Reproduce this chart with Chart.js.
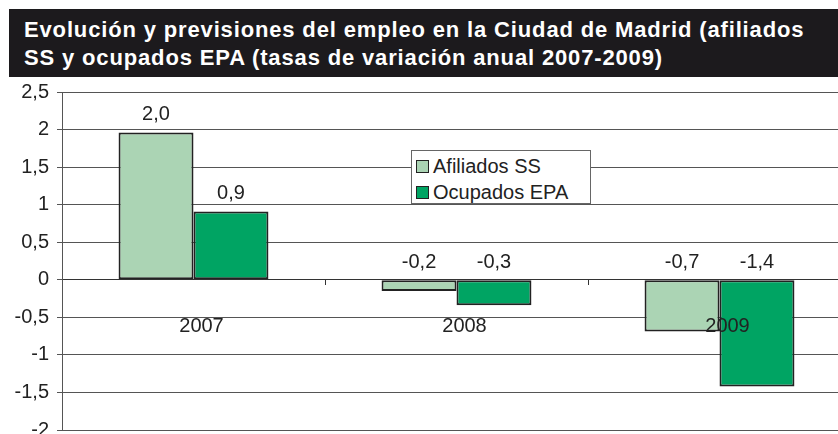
<!DOCTYPE html>
<html>
<head>
<meta charset="utf-8">
<script src="https://cdn.jsdelivr.net/npm/chart.js@4"></script>
<style>
  html, body { margin: 0; padding: 0; background: #fff; overflow: hidden; }
  #wrap { position: relative; width: 838px; height: 434px; overflow: hidden; }
  #title {
    position: absolute; left: 9px; top: 9px; width: 829px; height: 68px;
    box-sizing: border-box; padding: 7px 0 0 15px;
    background: #1c1a1d; color: #fff;
    font: bold 22px "Liberation Sans", Arial, sans-serif; line-height: 28px;
    letter-spacing: 0.85px; white-space: nowrap; z-index: 2;
  }
  #box { position: absolute; left: 0; top: 0; width: 860px; height: 450px; }
  #legend {
    position: absolute; left: 411px; top: 150px; width: 180px; height: 54px;
    box-sizing: border-box; background: #fff; border: 1px solid #666;
    padding: 2px 0 0 4px; font: 20px "Liberation Sans", Arial, sans-serif; color: #222;
    z-index: 2;
  }
  #legend div { height: 26px; line-height: 26px; white-space: nowrap; }
  #legend span.sw {
    display: inline-block; width: 11px; height: 11px; border: 1px solid #222;
    margin-right: 4px; vertical-align: 0px;
  }
</style>
</head>
<body>
<div id="wrap">
  <div id="title">Evolución y previsiones del empleo en la Ciudad de Madrid (afiliados<br>SS y ocupados EPA (tasas de variación anual 2007-2009)</div>
  <div id="box"><canvas id="c" width="860" height="450"></canvas></div>
  <div id="legend"></div>
</div>
<script>
// ---- data ------------------------------------------------------------------
const YEARS        = ['2007', '2008', '2009'];
const AFILIADOS    = [1.96, -0.15, -0.69];
const OCUPADOS     = [0.91, -0.34, -1.42];
const AFIL_LABELS  = ['2,0', '-0,2', '-0,7'];
const OCUP_LABELS  = ['0,9', '-0,3', '-1,4'];
const Y_MIN = -2, Y_MAX = 2.5, Y_STEP = 0.5;

const FONT  = '"Liberation Sans", Arial, sans-serif';
const LIGHT = 'rgb(171, 212, 180)';
const DARK  = 'rgb(0, 164, 99)';

function fmtComma(v) {
  return String(parseFloat(v.toFixed(1))).replace('.', ',');
}

// value labels above the bars (or above the zero line for negatives)
const barLabels = {
  id: 'barLabels',
  afterDatasetsDraw(chart) {
    const ctx = chart.ctx;
    ctx.save();
    ctx.font = '20px ' + FONT;
    ctx.fillStyle = '#222';
    ctx.textAlign = 'center';
    ctx.textBaseline = 'middle';
    chart.data.datasets.forEach((d, i) => {
      chart.getDatasetMeta(i).data.forEach((bar, j) => {
        const top = Math.min(bar.y, bar.base);
        ctx.fillText(d.valueLabels[j], bar.x, top - 18);
      });
    });
    ctx.restore();
  }
};

const chart = new Chart(document.getElementById('c'), {
  type: 'bar',
  data: {
    labels: YEARS,
    datasets: [
      { label: 'Afiliados SS', data: AFILIADOS, valueLabels: AFIL_LABELS,
        backgroundColor: LIGHT, borderColor: '#222', borderWidth: 2, borderSkipped: false },
      { label: 'Ocupados EPA', data: OCUPADOS, valueLabels: OCUP_LABELS,
        backgroundColor: DARK, borderColor: '#222', borderWidth: 2, borderSkipped: false },
    ],
  },
  options: {
    animation: false,
    responsive: false,
    plugins: { legend: { display: false }, tooltip: { enabled: false } },
    layout: { padding: { left: 0, right: 9, top: 92, bottom: 9 } },
    datasets: { bar: { barPercentage: 1, categoryPercentage: 0.57 } },
    scales: {
      x: {
        type: 'category',
        position: { y: 0 },
        grid: { drawOnChartArea: false, drawTicks: true, tickLength: 5, color: '#333' },
        border: { color: '#333', width: 1 },
        ticks: { z: 1, font: { size: 20, family: FONT }, color: '#222', padding: 30, labelOffset: 8, maxRotation: 0 },
      },
      y: {
        min: Y_MIN, max: Y_MAX,
        afterFit(s) { s.width = 62; },
        grid: { color: '#555', lineWidth: 1, tickLength: 5 },
        border: { color: '#555', width: 1 },
        ticks: { stepSize: Y_STEP, font: { size: 20, family: FONT }, color: '#222', padding: 8,
                 callback: v => fmtComma(v) },
      },
    },
  },
  plugins: [barLabels],
});

// legend box from the datasets
const leg = document.getElementById('legend');
chart.data.datasets.forEach(d => {
  const row = document.createElement('div');
  row.innerHTML = '<span class="sw" style="background:' + d.backgroundColor + '"></span>' + d.label;
  leg.appendChild(row);
});
</script>
</body>
</html>
